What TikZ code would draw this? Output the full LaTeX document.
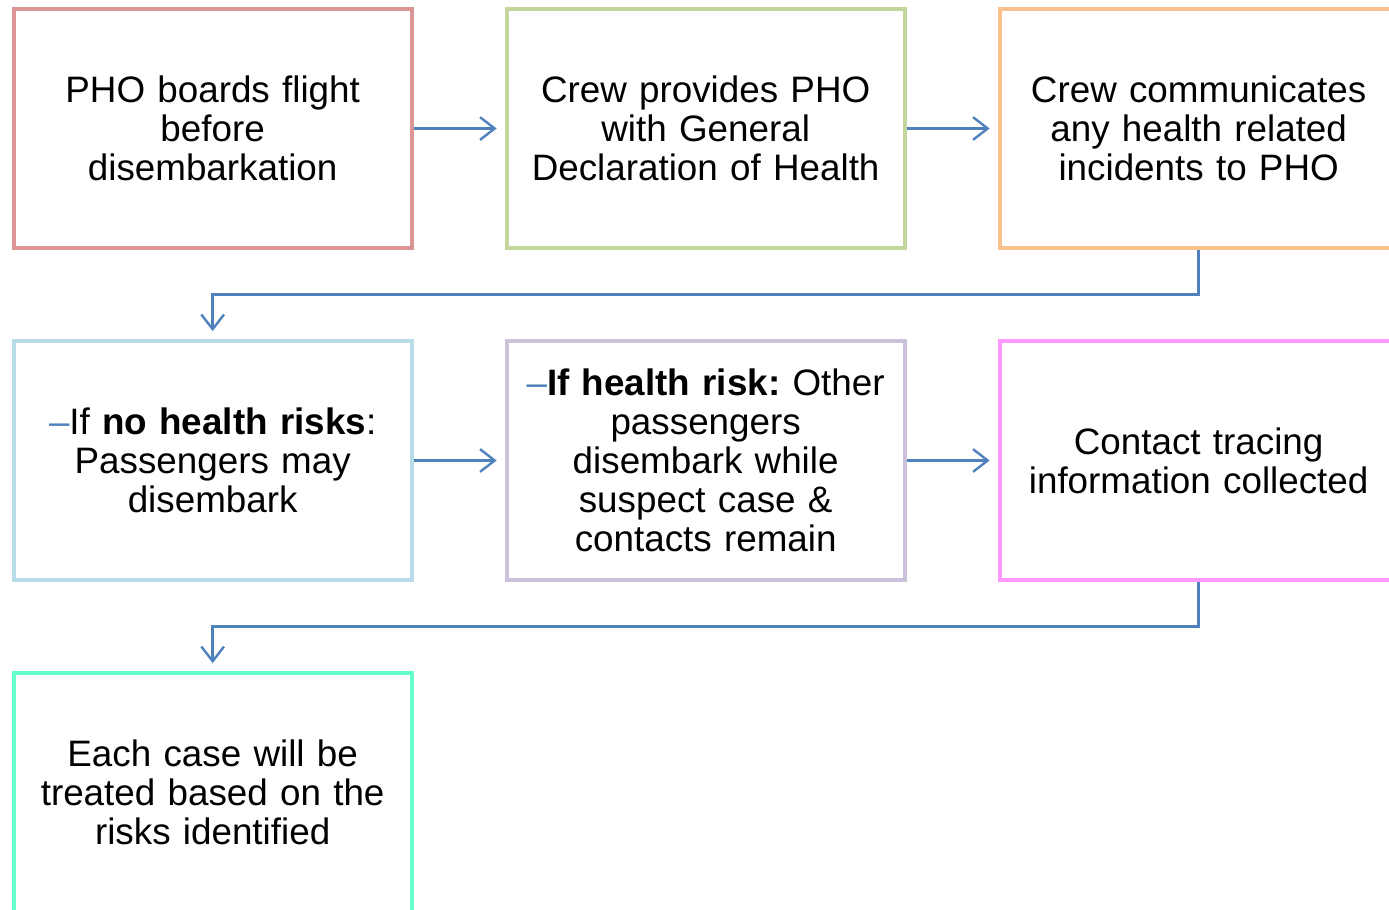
\documentclass[tikz,border=0pt]{standalone}
\usepackage{fontspec}
\setmainfont{Liberation Sans}
\usepackage{xcolor}
\usetikzlibrary{positioning, arrows.meta}
\usetikzlibrary{matrix}

\definecolor{linkblue}{HTML}{4F81BD}
\definecolor{boxred}{HTML}{D99694}
\definecolor{boxgreen}{HTML}{C3D69B}
\definecolor{boxorange}{HTML}{FAC090}
\definecolor{boxblue}{HTML}{B7DDE8}
\definecolor{boxlilac}{HTML}{CCC1DA}
\definecolor{boxpink}{HTML}{FF99FF}
\definecolor{boxaqua}{HTML}{66FFCC}

\tikzset{
  flow/.style={draw=linkblue, line width=1.8pt,
    -{Straight Barb[length=11pt,width=17pt]}, shorten >=6pt},
}
\newcommand{\bul}{\textcolor{linkblue}{–}}
\frenchspacing

\begin{document}
\begin{tikzpicture}
    \useasboundingbox (0,0) rectangle (1041.75pt,-682.5pt);
    \matrix (m) [matrix of nodes, matrix anchor=m-1-1.center,
            nodes={draw, anchor=center, line width=3pt, minimum width=298.5pt, minimum height=179pt,
                   text width=290pt, align=center, inner sep=0pt,
                   font=\fontsize{27.6}{29.25}\selectfont},
            row sep=67pt, column sep=68.25pt] at (159.5pt,-96.375pt) {
      |[draw=boxred]| {PHO boards flight\\before\\disembarkation} &
      |[draw=boxgreen]| {Crew provides PHO\\with General\\Declaration of Health} &
      |[draw=boxorange]| {Crew communicates\\any health related\\incidents to PHO} \\
      |[draw=boxblue]| {\bul If \textbf{no health risks}:\\Passengers may\\disembark} &
      |[draw=boxlilac]| {\bul\textbf{If health risk:} Other\\passengers\\disembark while\\suspect case \&\\contacts remain} &
      |[draw=boxpink]| {Contact tracing\\information collected} \\
      |[draw=boxaqua]| {Each case will be\\treated based on the\\risks identified} \\
    };
    % links between the steps
    \draw[flow] (m-1-1) -- (m-1-2);
    \draw[flow] (m-1-2) -- (m-1-3);
    \draw[flow] (m-1-3.south) -- ++(0,-33.5pt) -| (m-2-1.north);
    \draw[flow] (m-2-1) -- (m-2-2);
    \draw[flow] (m-2-2) -- (m-2-3);
    \draw[flow] (m-2-3.south) -- ++(0,-33.5pt) -| (m-3-1.north);
  \end{tikzpicture}
\end{document}
